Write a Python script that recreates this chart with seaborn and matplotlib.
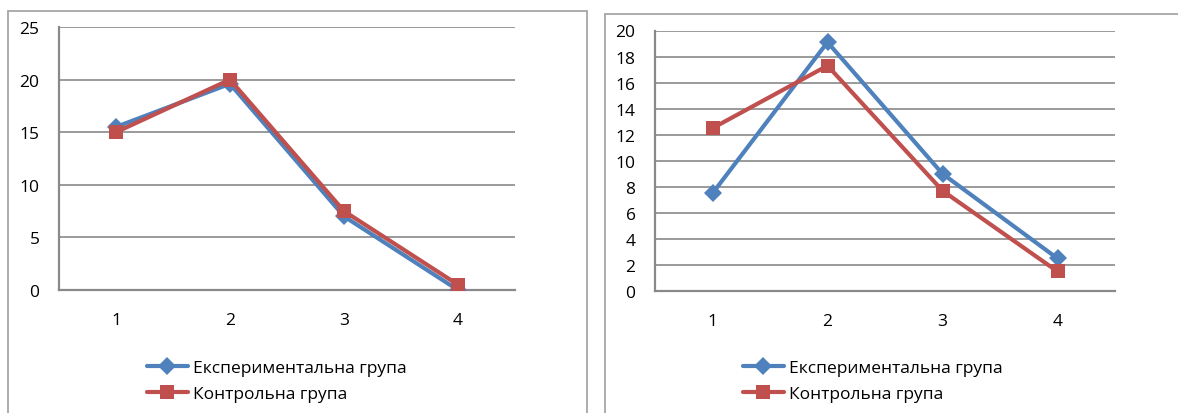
import matplotlib
matplotlib.use("Agg")
import matplotlib.pyplot as plt
import seaborn as sns
import pandas as pd
from matplotlib.patches import Rectangle
from matplotlib.lines import Line2D

# Stages of the study and the two compared groups
stages = [1, 2, 3, 4]
groups = ["Експериментальна група", "Контрольна група"]

# Left chart values
left_exp = [15.5, 19.6, 7.0, 0.0]
left_ctrl = [15.0, 20.0, 7.5, 0.5]
left_yticks = [0, 5, 10, 15, 20, 25]

# Right chart values
right_exp = [7.5, 19.1, 9.0, 2.5]
right_ctrl = [12.5, 17.3, 7.7, 1.5]
right_yticks = [0, 2, 4, 6, 8, 10, 12, 14, 16, 18, 20]

BLUE = "#4F81BD"
RED = "#C0504D"
GRID = "#898989"
FRAME = "#A6A6A6"
TEXT = "#000000"
FS = 12.5
DIAMOND_SIZE = 9
SQUARE_SIZE = 10

sns.set_theme(style="white")
plt.rcParams["font.family"] = ["Open Sans", "DejaVu Sans"]

W, H = 1178, 414
fig = plt.figure(figsize=(W / 100, H / 100), dpi=100)


def fx(px):
    return px / W


def fy(py):
    return 1 - py / H


def long_frame(exp, ctrl):
    return pd.DataFrame({
        "stage": stages * 2,
        "value": list(exp) + list(ctrl),
        "group": [groups[0]] * len(stages) + [groups[1]] * len(stages),
    })


def draw_panel(rect, exp, ctrl, yticks, frame_rect, legend_xy, ytick_pad):
    # outer chart border
    fx0, fy0, fx1 = frame_rect
    fig.patches.append(Rectangle((fx(fx0), -0.1), fx(fx1) - fx(fx0), fy(fy0) + 0.1,
                                 transform=fig.transFigure, fill=False,
                                 edgecolor=FRAME, linewidth=1.3, zorder=0))
    ax = fig.add_axes(rect)
    data = long_frame(exp, ctrl)
    sns.lineplot(data=data, x="stage", y="value", hue="group", style="group",
                 hue_order=groups, style_order=groups,
                 palette=[BLUE, RED], markers=["D", "s"], dashes=False,
                 linewidth=3.0, markersize=SQUARE_SIZE, markeredgewidth=0,
                 legend=False, ax=ax, zorder=3)
    # diamonds slightly smaller than the squares
    lines = ax.get_lines()
    if len(lines) >= 2:
        lines[0].set_markersize(DIAMOND_SIZE)
        lines[1].set_markersize(SQUARE_SIZE)

    ax.set_xlim(0.5, 4.5)
    ax.set_ylim(yticks[0], yticks[-1])
    ax.set_yticks(yticks)
    ax.set_yticklabels([str(t) for t in yticks])
    ax.set_xticks(stages)
    ax.set_xticklabels([str(s) for s in stages])
    ax.set_xticks([0.5, 1.5, 2.5, 3.5, 4.5], minor=True)
    ax.tick_params(axis="x", which="major", length=0, pad=16, labelsize=FS,
                   labelcolor=TEXT)
    ax.tick_params(axis="x", which="minor", length=4, width=1.2, color=GRID,
                   direction="out")
    ax.tick_params(axis="y", which="major", length=6, width=1.2, color=GRID,
                   direction="out", pad=ytick_pad, labelsize=FS,
                   labelcolor=TEXT)
    ax.set_xlabel("")
    ax.set_ylabel("")
    ax.yaxis.grid(True, color=GRID, linewidth=1.2)
    ax.xaxis.grid(False)
    ax.set_axisbelow(True)
    for side in ("top", "right"):
        ax.spines[side].set_visible(False)
    for side in ("left", "bottom"):
        ax.spines[side].set_color(GRID)
        ax.spines[side].set_linewidth(1.6)
        ax.spines[side].set_zorder(2)
    ax.set_facecolor("none")

    handles = [
        Line2D([], [], color=BLUE, marker="D", markersize=DIAMOND_SIZE,
               linewidth=3.0, markeredgewidth=0),
        Line2D([], [], color=RED, marker="s", markersize=SQUARE_SIZE,
               linewidth=3.0, markeredgewidth=0),
    ]
    lx, ly = legend_xy
    fig.legend(handles, groups, loc="center left",
               bbox_to_anchor=(fx(lx), fy(ly)), frameon=False, fontsize=FS,
               handlelength=2.35, handletextpad=0.28, labelspacing=0.58,
               borderpad=0, borderaxespad=0, labelcolor=TEXT)
    return ax


draw_panel([fx(59), fy(291), (515 - 59) / W, (291 - 28) / H],
           left_exp, left_ctrl, left_yticks,
           frame_rect=(7.5, 12, 587), legend_xy=(147, 382), ytick_pad=8)
draw_panel([fx(655), fy(292), (1115 - 655) / W, (292 - 31.5) / H],
           right_exp, right_ctrl, right_yticks,
           frame_rect=(605, 14.5, 1200), legend_xy=(743, 382), ytick_pad=8)

fig.savefig("out.png", dpi=100, facecolor="white")
